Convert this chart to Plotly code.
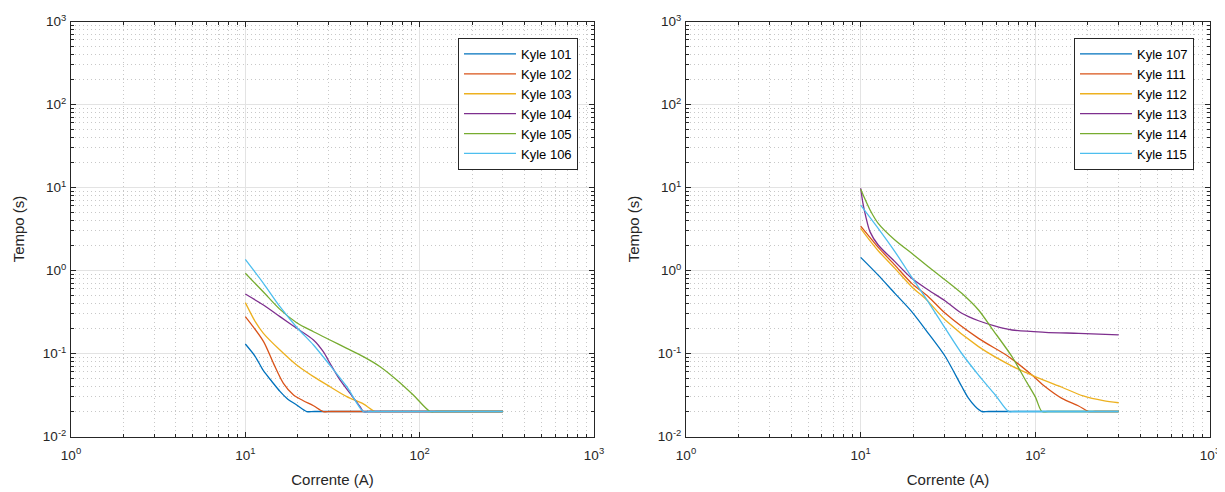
import plotly.graph_objects as go

# ---------------- data ----------------
colors = ["#0072BD", "#D95319", "#EDB120", "#7E2F8E", "#77AC30", "#4DBEEE"]

left_names = ["Kyle 101", "Kyle 102", "Kyle 103", "Kyle 104", "Kyle 105", "Kyle 106"]
right_names = ["Kyle 107", "Kyle 111", "Kyle 112", "Kyle 113", "Kyle 114", "Kyle 115"]

k101_x = [10, 11.4, 12.7, 14.2, 15.8, 17.6, 19.7, 22.5, 25, 300]
k101_y = [0.13, 0.092, 0.062, 0.046, 0.035, 0.028, 0.024, 0.02, 0.02, 0.02]
k102_x = [10, 12.7, 14.5, 16.5, 18.9, 21.5, 24.6, 28.0, 31, 300]
k102_y = [0.278, 0.14, 0.076, 0.044, 0.0316, 0.027, 0.0235, 0.02, 0.02, 0.02]
k103_x = [10, 11.4, 12.7, 15.8, 19.7, 24.6, 30.6, 38.2, 47.5, 55.5, 60, 300]
k103_y = [0.41, 0.242, 0.175, 0.110, 0.0726, 0.0526, 0.0398, 0.0302, 0.0247, 0.02, 0.02, 0.02]
k104_x = [10, 12.7, 15.8, 19.7, 24.6, 28.0, 30.6, 34.9, 39.9, 45.5, 47.5, 52, 300]
k104_y = [0.521, 0.384, 0.278, 0.201, 0.1455, 0.105, 0.076, 0.048, 0.0331, 0.0229, 0.02, 0.02, 0.02]
k105_x = [10, 12.7, 15.8, 19.7, 24.6, 30.6, 38.2, 47.5, 59.3, 73.9, 92.0, 114.8, 125, 300]
k105_y = [0.925, 0.55, 0.34, 0.235, 0.183, 0.1455, 0.1155, 0.0916, 0.0693, 0.048, 0.0316, 0.02, 0.02, 0.02]
k106_x = [10, 12.7, 15.8, 19.7, 24.6, 30.6, 38.2, 47.5, 52, 300]
k106_y = [1.36, 0.70, 0.366, 0.207, 0.1265, 0.072, 0.0398, 0.02, 0.02, 0.02]

k107_x = [10, 12.6, 15.7, 19.6, 24.4, 30.5, 37.9, 41.4, 45.3, 49.4, 54, 300]
k107_y = [1.44, 0.88, 0.53, 0.32, 0.175, 0.092, 0.040, 0.029, 0.023, 0.02, 0.02, 0.02]
k111_x = [10, 11.3, 12.6, 15.7, 19.6, 24.4, 30.5, 47.3, 70.3, 95.7, 114, 142, 177, 202, 220, 300]
k111_y = [3.43, 2.51, 1.90, 1.16, 0.70, 0.484, 0.305, 0.152, 0.0916, 0.055, 0.0398, 0.0288, 0.0233, 0.02, 0.02, 0.02]
k112_x = [10, 11.3, 12.6, 15.7, 19.6, 23.9, 30.5, 47.3, 73.5, 102, 142, 188, 245, 300]
k112_y = [3.22, 2.29, 1.73, 1.06, 0.638, 0.442, 0.253, 0.121, 0.0706, 0.0517, 0.0392, 0.0308, 0.027, 0.0255]
k113_x = [10, 10.3, 10.7, 11.3, 12.6, 15.7, 19.6, 24.4, 30.5, 37.9, 47.3, 59, 73.5, 114, 177, 300]
k113_y = [9.8, 6.5, 4.45, 2.94, 2.03, 1.28, 0.805, 0.582, 0.43, 0.305, 0.248, 0.214, 0.192, 0.18, 0.175, 0.168]
k114_x = [10, 11.3, 12.6, 15.7, 19.6, 24.4, 30.5, 37.9, 47.3, 56.4, 73.5, 87.7, 100, 109, 118, 300]
k114_y = [9.5, 5.4, 3.7, 2.33, 1.61, 1.11, 0.77, 0.531, 0.334, 0.20, 0.0916, 0.048, 0.030, 0.02, 0.02, 0.02]
k115_x = [10, 12.6, 15.7, 19.6, 24, 30.5, 37.9, 47.3, 59, 70.3, 76, 300]
k115_y = [6.15, 3.22, 1.69, 0.83, 0.44, 0.201, 0.100, 0.055, 0.0316, 0.02, 0.02, 0.02]

left_series = [(k101_x, k101_y), (k102_x, k102_y), (k103_x, k103_y),
               (k104_x, k104_y), (k105_x, k105_y), (k106_x, k106_y)]
right_series = [(k107_x, k107_y), (k111_x, k111_y), (k112_x, k112_y),
                (k113_x, k113_y), (k114_x, k114_y), (k115_x, k115_y)]

x_tickvals = [1, 10, 100, 1000]
x_ticktext = ["10<sup>0</sup>", "10<sup>1</sup>", "10<sup>2</sup>", "10<sup>3</sup>"]
y_tickvals = [0.01, 0.1, 1, 10, 100, 1000]
y_ticktext = ["10<sup>-2</sup>", "10<sup>-1</sup>", "10<sup>0</sup>",
              "10<sup>1</sup>", "10<sup>2</sup>", "10<sup>3</sup>"]
x_minor = [m * 10 ** k for k in range(0, 3) for m in range(2, 10)]
y_minor = [m * 10.0 ** k for k in range(-2, 3) for m in range(2, 10)]

x_title = "Corrente (A)"
y_title = "Tempo (s)"

# ---------------- figure ----------------
FONT = "Arial, Liberation Sans, sans-serif"
AX = "#262626"
W, H = 1225, 492
OFF = 8  # page body margin: paper starts at (8, 8) in the window


def px_x(p):
    return (p - OFF) / W


def px_y(p):
    return 1 - (p - OFF) / H


fig = go.Figure()
for (x, y), name, c in zip(left_series, left_names, colors):
    fig.add_trace(go.Scatter(x=x, y=y, name=name, mode="lines",
                             line=dict(color=c, width=1.3, shape="spline", smoothing=0.8),
                             xaxis="x", yaxis="y", legend="legend"))
for (x, y), name, c in zip(right_series, right_names, colors):
    fig.add_trace(go.Scatter(x=x, y=y, name=name, mode="lines",
                             line=dict(color=c, width=1.3, shape="spline", smoothing=0.8),
                             xaxis="x2", yaxis="y2", legend="legend2"))


def axis(kind, domain, anchor):
    if kind == "x":
        tv, tt, mv, rng, title = x_tickvals, x_ticktext, x_minor, [0, 3], x_title
        extra = dict(ticklabelstandoff=6)
        standoff = 12
    else:
        tv, tt, mv, rng, title = y_tickvals, y_ticktext, y_minor, [-2, 3], y_title
        extra = dict(ticklabelstandoff=1)
        standoff = 14
    return dict(
        type="log", range=rng, domain=domain, anchor=anchor, automargin=False,
        tickmode="array", tickvals=tv, ticktext=tt,
        ticks="inside", ticklen=5, tickwidth=1, tickcolor=AX,
        showline=True, linecolor=AX, linewidth=1, mirror="ticks",
        showgrid=True, gridcolor="#e3e3e3", gridwidth=1,
        zeroline=False,
        tickfont=dict(family=FONT, size=13.5, color=AX),
        title=dict(text=title, font=dict(family=FONT, size=15, color=AX), standoff=standoff),
        minor=dict(tickmode="array", tickvals=mv, ticks="inside", ticklen=3,
                   tickcolor=AX, showgrid=True, gridcolor="#c8c8c8",
                   griddash="1px,3px", gridwidth=1),
        **extra,
    )


y_dom = [px_y(436.5), px_y(21.5)]
legend_common = dict(xanchor="right", yanchor="top", bgcolor="white",
                     bordercolor=AX, borderwidth=1, itemwidth=52,
                     font=dict(family=FONT, size=13, color="black"))
fig.update_layout(
    width=W, height=H, autosize=False,
    margin=dict(l=0, r=0, t=0, b=0, autoexpand=False),
    paper_bgcolor="white", plot_bgcolor="white",
    font=dict(family=FONT, color=AX),
    xaxis=axis("x", [px_x(71), px_x(594)], "y"),
    yaxis=axis("y", y_dom, "x"),
    xaxis2=axis("x", [px_x(686), px_x(1210)], "y2"),
    yaxis2=axis("y", y_dom, "x2"),
    legend=dict(x=px_x(578), y=px_y(38), **legend_common),
    legend2=dict(x=px_x(1194), y=px_y(38), **legend_common),
    showlegend=True,
)

fig.write_html("out.html")
